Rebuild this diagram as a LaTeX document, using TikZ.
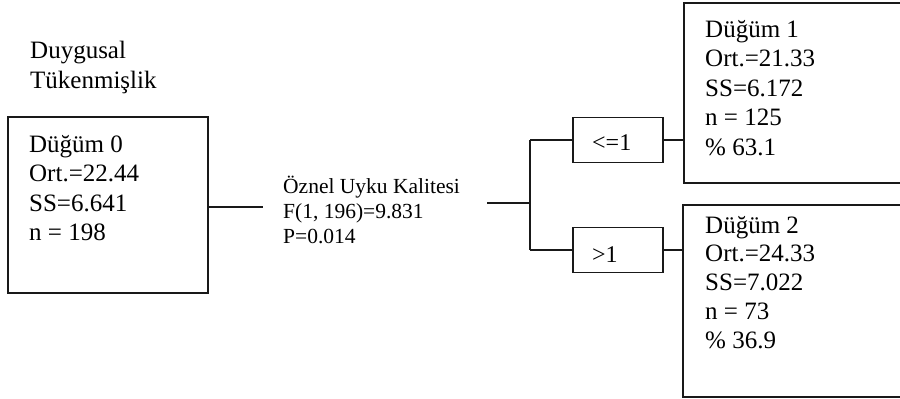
\documentclass[tikz,border=0pt]{standalone}
\usepackage{fontspec}
\setmainfont{Liberation Serif}
\begin{document}
\begin{tikzpicture}[x=1pt,y=-1pt,
  box/.style={draw=black!90,line width=1.9pt,rectangle,inner sep=0pt},
  conn/.style={draw=black!90,line width=1.9pt},
  bigtxt/.style={anchor=base west,inner sep=0pt,align=left,font=\fontsize{25}{29.4}\selectfont,text=black},
  midtxt/.style={anchor=base west,inner sep=0pt,align=left,font=\fontsize{21.5}{25}\selectfont,text=black}]
\useasboundingbox (0,0) rectangle (900,399);
% title (base anchor = last line)
\node[bigtxt] (title) at (30,88) {Duygusal\\Tükenmişlik};
% root box
\node[box,minimum width=200pt,minimum height=176pt] (n0) at (108,205) {};
\node[bigtxt] (t0) at (29,240.5) {Düğüm 0\\Ort.=22.44\\SS=6.641\\n = 198};
% split text
\node[midtxt] (split) at (283,243) {Öznel Uyku Kalitesi\\F(1, 196)=9.831\\P=0.014};
\coordinate (a) at (263,207);
\coordinate (b) at (487,203);
\coordinate (j) at (530,203);
\coordinate (jt) at (530,140);
\coordinate (jb) at (530,250);
% condition boxes
\node[box,minimum width=90pt,minimum height=45pt] (c1) at (618,140) {};
\node[midtxt,font=\fontsize{24}{25}\selectfont] (c1t) at (592,150) {<=1};
\node[box,minimum width=90pt,minimum height=45pt] (c2) at (618,250) {};
\node[midtxt,font=\fontsize{24}{25}\selectfont] (c2t) at (592,262) {>1};
% child boxes
\node[box,minimum width=226pt,minimum height=180pt] (n1) at (797,93) {};
\node[bigtxt] (t1) at (705,155) {Düğüm 1\\Ort.=21.33\\SS=6.172\\n = 125\\\% 63.1};
\node[box,minimum width=226pt,minimum height=192pt] (n2) at (796,301) {};
\node[bigtxt,font=\fontsize{25}{28.9}\selectfont] (t2) at (705,348.6) {Düğüm 2\\Ort.=24.33\\SS=7.022\\n = 73\\\% 36.9};
% connectors
\draw[conn] (n0.east |- a) -- (a);
\draw[conn] (b) -- (j);
\draw[conn] (jt) -- (jb);
\draw[conn] (jt) -- (c1.west);
\draw[conn] (jb) -- (c2.west);
\draw[conn] (c1.east) -- (n1.west |- c1.east);
\draw[conn] (c2.east) -- (n2.west |- c2.east);
\end{tikzpicture}
\end{document}
